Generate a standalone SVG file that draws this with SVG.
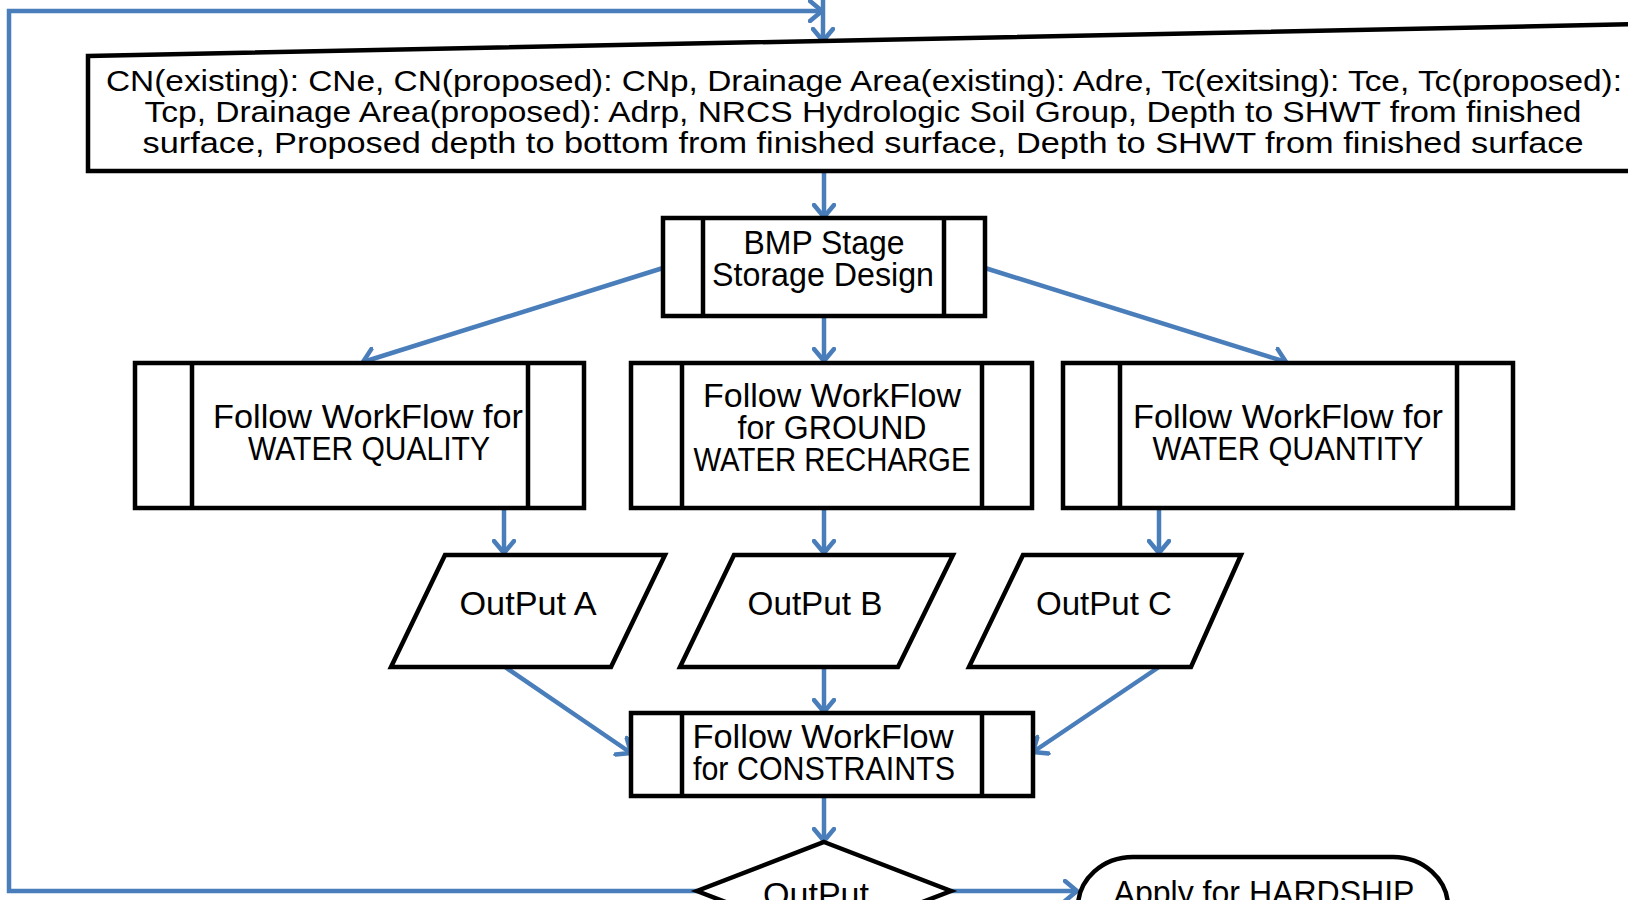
<svg xmlns="http://www.w3.org/2000/svg" width="1628" height="900" viewBox="0 0 1628 900">
  <style>
    .box { fill: #ffffff; stroke: #000000; stroke-width: 4.5; stroke-linejoin: miter; }
    .div { stroke: #000000; stroke-width: 4.5; fill: none; }
    .t { font-family: "Liberation Sans", Arial, sans-serif; font-size: 33px; fill: #000000; text-anchor: middle; }
    .tt { font-family: "Liberation Sans", Arial, sans-serif; font-size: 30px; fill: #000000; text-anchor: middle; }
    .c { fill: none; stroke: #4a7ebb; stroke-width: 4.5; }
  </style>
  <defs>
    <marker id="arr" viewBox="0 0 16 24" refX="14" refY="12" markerWidth="16" markerHeight="24" markerUnits="userSpaceOnUse" orient="auto">
      <path d="M2,2 L14,12 L2,22" fill="none" stroke="#4a7ebb" stroke-width="4.5" stroke-linecap="round" stroke-linejoin="round"/>
    </marker>
  </defs>

  <rect x="0" y="0" width="1628" height="900" fill="#ffffff"/>

  <g id="connectors">
    <path class="c" d="M697,891 H9 V11 H822" marker-end="url(#arr)"/>
    <path class="c" d="M823,0 V41" marker-end="url(#arr)"/>
    <path class="c" d="M824,171 V217" marker-end="url(#arr)"/>
    <path class="c" d="M663,268 L363,362" marker-end="url(#arr)"/>
    <path class="c" d="M985,268 L1286,362" marker-end="url(#arr)"/>
    <path class="c" d="M824,316 V361" marker-end="url(#arr)"/>
    <path class="c" d="M504,508 V553" marker-end="url(#arr)"/>
    <path class="c" d="M824,508 V553" marker-end="url(#arr)"/>
    <path class="c" d="M1159,508 V553" marker-end="url(#arr)"/>
    <path class="c" d="M505,667 L631,753" marker-end="url(#arr)"/>
    <path class="c" d="M824,667 V712" marker-end="url(#arr)"/>
    <path class="c" d="M1159,667 L1033,752" marker-end="url(#arr)"/>
    <path class="c" d="M824,796 V841" marker-end="url(#arr)"/>
    <path class="c" d="M951,891 H1077" marker-end="url(#arr)"/>
  </g>

  <g id="input">
    <polygon class="box" points="88,56 1645,24 1645,171 88,171"/>
    <text class="tt" x="864" y="91" textLength="1516" lengthAdjust="spacingAndGlyphs">CN(existing): CNe, CN(proposed): CNp, Drainage Area(existing): Adre, Tc(exitsing): Tce, Tc(proposed):</text>
    <text class="tt" x="863" y="122" textLength="1437" lengthAdjust="spacingAndGlyphs">Tcp, Drainage Area(proposed): Adrp, NRCS Hydrologic Soil Group, Depth to SHWT from finished</text>
    <text class="tt" x="863" y="153" textLength="1441" lengthAdjust="spacingAndGlyphs">surface, Proposed depth to bottom from finished surface, Depth to SHWT from finished surface</text>
  </g>

  <g id="bmp">
    <rect class="box" x="663" y="218" width="322" height="98"/>
    <line class="div" x1="703" y1="218" x2="703" y2="316"/>
    <line class="div" x1="944" y1="218" x2="944" y2="316"/>
    <text class="t" x="824" y="254" textLength="161" lengthAdjust="spacingAndGlyphs">BMP Stage</text>
    <text class="t" x="823" y="286" textLength="222" lengthAdjust="spacingAndGlyphs">Storage Design</text>
  </g>

  <g id="wq">
    <rect class="box" x="135" y="363" width="449" height="145"/>
    <line class="div" x1="192" y1="363" x2="192" y2="508"/>
    <line class="div" x1="528" y1="363" x2="528" y2="508"/>
    <text class="t" x="368" y="428" textLength="310" lengthAdjust="spacingAndGlyphs">Follow WorkFlow for</text>
    <text class="t" x="369" y="460" textLength="242" lengthAdjust="spacingAndGlyphs">WATER QUALITY</text>
  </g>

  <g id="gwr">
    <rect class="box" x="631" y="363" width="401" height="145"/>
    <line class="div" x1="682" y1="363" x2="682" y2="508"/>
    <line class="div" x1="982" y1="363" x2="982" y2="508"/>
    <text class="t" x="832" y="407" textLength="258" lengthAdjust="spacingAndGlyphs">Follow WorkFlow</text>
    <text class="t" x="832" y="439" textLength="189" lengthAdjust="spacingAndGlyphs">for GROUND</text>
    <text class="t" x="832" y="471" textLength="277" lengthAdjust="spacingAndGlyphs">WATER RECHARGE</text>
  </g>

  <g id="wqty">
    <rect class="box" x="1063" y="363" width="450" height="145"/>
    <line class="div" x1="1120" y1="363" x2="1120" y2="508"/>
    <line class="div" x1="1457" y1="363" x2="1457" y2="508"/>
    <text class="t" x="1288" y="428" textLength="310" lengthAdjust="spacingAndGlyphs">Follow WorkFlow for</text>
    <text class="t" x="1288" y="460" textLength="271" lengthAdjust="spacingAndGlyphs">WATER QUANTITY</text>
  </g>

  <g id="outA">
    <polygon class="box" points="445,555 665,555 611,667 391,667"/>
    <text class="t" x="528" y="615" textLength="137" lengthAdjust="spacingAndGlyphs">OutPut A</text>
  </g>
  <g id="outB">
    <polygon class="box" points="734,555 953,555 898,667 680,667"/>
    <text class="t" x="815" y="615" textLength="135" lengthAdjust="spacingAndGlyphs">OutPut B</text>
  </g>
  <g id="outC">
    <polygon class="box" points="1023,555 1241,555 1191,667 969,667"/>
    <text class="t" x="1104" y="615" textLength="136" lengthAdjust="spacingAndGlyphs">OutPut C</text>
  </g>

  <g id="constraints">
    <rect class="box" x="631" y="713" width="402" height="83"/>
    <line class="div" x1="682" y1="713" x2="682" y2="796"/>
    <line class="div" x1="982" y1="713" x2="982" y2="796"/>
    <text class="t" x="823" y="748" textLength="261" lengthAdjust="spacingAndGlyphs">Follow WorkFlow</text>
    <text class="t" x="824" y="780" textLength="262" lengthAdjust="spacingAndGlyphs">for CONSTRAINTS</text>
  </g>

  <g id="decision">
    <polygon class="box" points="824,842 951,891 824,940 697,891"/>
    <text class="t" x="816" y="906" textLength="106" lengthAdjust="spacingAndGlyphs">OutPut</text>
  </g>

  <g id="hardship">
    <rect class="box" x="1078" y="857" width="370" height="100" rx="55" ry="50"/>
    <text class="t" x="1264" y="904" textLength="301" lengthAdjust="spacingAndGlyphs">Apply for HARDSHIP</text>
  </g>
</svg>
